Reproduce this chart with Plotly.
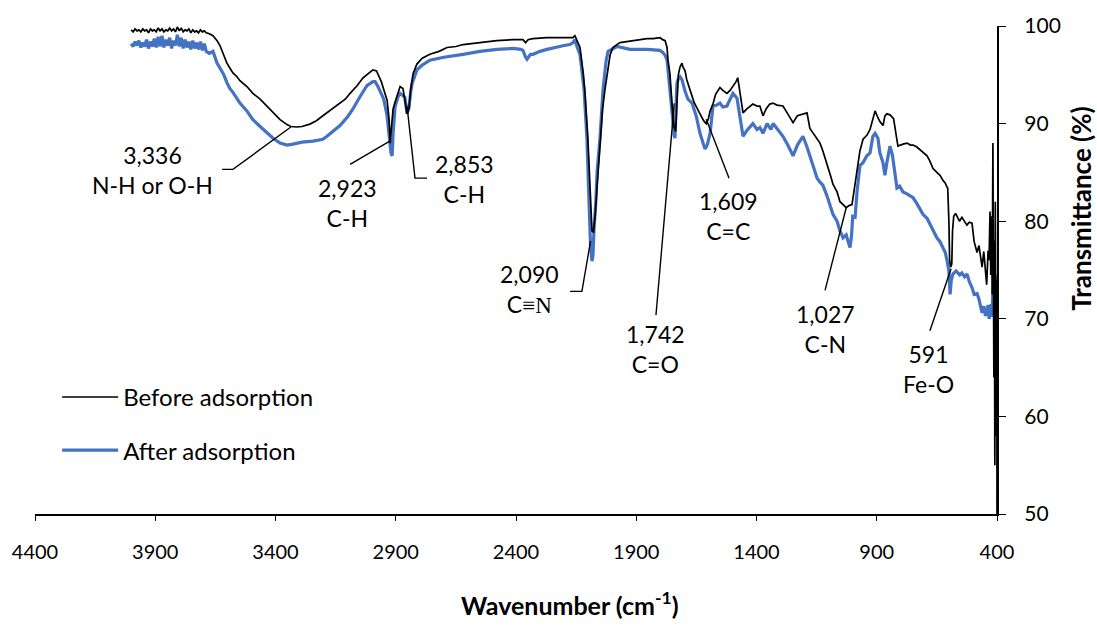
import plotly.graph_objects as go

# ---- FTIR spectra: wavenumber (cm-1) and transmittance (%) ----
# noisy high-wavenumber edge (4000-3688 cm-1), shared wavenumber grid
edge_wn = [4000, 3992, 3984, 3976, 3968, 3960, 3952, 3944, 3936, 3928, 3920, 3912, 3904, 3896,
           3888, 3880, 3872, 3864, 3856, 3848, 3840, 3832, 3824, 3816, 3808, 3800, 3792, 3784,
           3776, 3768, 3760, 3752, 3744, 3736, 3728, 3720, 3712, 3704, 3696, 3688]
before_edge_t = [99.6, 99.4, 99.7, 99.5, 99.6, 99.4, 99.7, 99.5, 99.6, 99.3, 99.7, 99.5, 99.6, 99.4,
                 99.8, 99.5, 99.7, 99.4, 99.6, 99.5, 99.8, 99.5, 99.7, 99.4, 99.9, 99.5, 99.8, 99.4,
                 99.6, 99.5, 99.7, 99.3, 99.6, 99.4, 99.5, 99.3, 99.6, 99.4, 99.5, 99.3]
after_edge_t = [98.2, 97.9, 98.4, 98.0, 98.5, 97.8, 98.3, 97.9, 98.6, 97.7, 98.4, 97.9, 98.7, 97.8,
                98.9, 97.9, 99.0, 97.8, 98.6, 98.0, 98.8, 97.7, 98.5, 98.0, 99.1, 97.9, 98.8, 97.7,
                98.6, 97.8, 98.4, 97.6, 98.5, 97.7, 98.3, 97.6, 98.4, 97.5, 98.2, 97.4]

before_wn = [3675, 3660, 3643, 3631, 3615, 3602, 3590, 3577,
             3560, 3548, 3519, 3494, 3464, 3435, 3410, 3381, 3352, 3336, 3311, 3290, 3257, 3230, 3203,
             3170, 3144, 3110, 3090, 3060, 3036, 3010, 2995, 2980, 2974, 2960, 2950, 2936, 2928, 2923,
             2918, 2911, 2903, 2890, 2882, 2870, 2862, 2853, 2845, 2838, 2828, 2812, 2790, 2758, 2720,
             2687, 2650, 2620, 2550, 2480, 2412, 2371, 2360, 2350, 2330, 2271, 2200, 2163, 2155, 2145,
             2134, 2120, 2113, 2101, 2090, 2084, 2078, 2071, 2063, 2051, 2040, 2030, 2017, 2009, 1997,
             1980, 1968, 1940, 1914, 1880, 1855, 1830, 1801, 1790, 1780, 1772, 1768, 1760, 1755, 1751,
             1747, 1742, 1736, 1731, 1725, 1718, 1710, 1706, 1697, 1690, 1677, 1660, 1635, 1620, 1609,
             1600, 1593, 1581, 1570, 1552, 1540, 1523, 1510, 1498, 1485, 1478, 1472, 1465, 1456, 1440,
             1425, 1415, 1398, 1386, 1373, 1360, 1345, 1331, 1315, 1290, 1270, 1248, 1230, 1207, 1190,
             1178, 1160, 1136, 1124, 1107, 1094, 1082, 1065, 1053, 1040, 1027, 1015, 1003, 995, 982,
             970, 957, 941, 928, 916, 907, 895, 887, 874, 866, 858, 845, 830, 824, 816,
             812, 791, 774, 760, 749, 733, 720, 708, 691, 680, 666, 650, 637, 625, 615,
             608, 605, 600, 597, 593, 588, 585, 580, 572, 565, 556, 546, 535, 525, 515,
             504, 495, 483, 475, 470, 462, 455, 448, 443, 437, 433, 429, 426, 423, 420,
             417, 415, 413, 411, 409, 407, 405, 403, 401, 400]
before_t = [99.2, 99.0, 98.5, 98.0, 97.0, 96.2, 95.7, 95.2,
            94.8, 94.4, 93.8, 93.1, 92.5, 91.8, 91.1, 90.4, 89.9, 89.7, 89.65, 89.7, 89.95, 90.3, 90.8,
            91.4, 91.8, 92.5, 93.1, 93.9, 94.7, 95.2, 95.5, 95.4, 95.1, 94.3, 93.5, 92.4, 90.5, 88.0,
            89.6, 91.5, 92.2, 93.3, 93.8, 93.6, 92.3, 91.0, 91.6, 93.5, 95.1, 96.1, 96.7, 97.1, 97.4,
            97.8, 97.9, 98.1, 98.3, 98.5, 98.6, 98.6, 98.3, 98.6, 98.7, 98.8, 98.8, 98.8, 99.0, 98.5,
            97.8, 95.1, 93.1, 88.4, 81.0, 79.0, 78.9, 80.5, 83.5, 88.0, 91.5, 93.5, 96.0, 97.0, 97.8,
            98.1, 98.3, 98.4, 98.5, 98.6, 98.7, 98.7, 98.8, 98.6, 98.5, 97.8, 96.5, 95.1, 93.0, 91.5,
            90.5, 89.6, 89.2, 92.0, 95.0, 95.8, 96.2, 95.8, 95.4, 94.5, 93.4, 92.2, 91.0, 90.3, 90.0,
            90.5, 91.3, 92.0, 93.0, 93.7, 93.4, 93.1, 93.4, 93.8, 94.3, 94.7, 93.8, 92.3, 91.1, 91.5,
            91.8, 92.0, 91.8, 91.8, 90.8, 91.5, 92.0, 92.1, 91.9, 91.8, 91.0, 90.1, 90.8, 91.0, 91.1,
            89.5, 88.8, 88.0, 87.2, 85.7, 84.8, 83.8, 83.0, 82.0, 81.7, 81.4, 81.6, 81.7, 83.0, 85.0,
            87.2, 88.4, 88.8, 89.4, 90.5, 91.3, 90.6, 90.2, 89.8, 90.8, 91.0, 90.9, 90.5, 89.5, 87.9,
            87.7, 87.9, 88.0, 87.8, 87.8, 87.6, 87.3, 87.0, 86.7, 86.2, 85.4, 85.0, 84.7, 84.2, 83.9,
            83.5, 83.4, 80.0, 76.0, 75.3, 75.6, 79.0, 80.5, 80.8, 80.4, 80.0, 80.4, 80.0, 79.6, 79.9,
            79.8, 77.9, 76.8, 77.5, 76.4, 75.3, 76.9, 75.0, 73.5, 77.0, 76.0, 81.0, 74.5, 80.5, 72.5,
            88.0, 74.0, 64.0, 78.0, 55.0, 82.0, 70.0, 58.0, 74.0, 50.0]

after_wn = [3675, 3660, 3643, 3631, 3615, 3602, 3590, 3577,
            3560, 3548, 3519, 3494, 3464, 3435, 3410, 3381, 3352, 3327, 3290, 3244, 3203, 3186, 3160,
            3132, 3100, 3078, 3050, 3020, 2995, 2986, 2974, 2966, 2950, 2936, 2928, 2920, 2915, 2911,
            2903, 2890, 2882, 2870, 2862, 2853, 2845, 2838, 2832, 2812, 2790, 2758, 2700, 2620, 2550,
            2479, 2412, 2380, 2371, 2360, 2354, 2340, 2329, 2300, 2271, 2200, 2176, 2163, 2155, 2145,
            2134, 2117, 2105, 2096, 2090, 2084, 2080, 2075, 2068, 2063, 2051, 2038, 2025, 2017, 1997,
            1980, 1926, 1855, 1801, 1790, 1780, 1772, 1768, 1760, 1751, 1747, 1742, 1739, 1736, 1731,
            1725, 1718, 1710, 1706, 1697, 1685, 1668, 1650, 1635, 1622, 1614, 1605, 1593, 1581, 1565,
            1552, 1540, 1523, 1510, 1498, 1481, 1469, 1456, 1440, 1415, 1398, 1386, 1373, 1356, 1340,
            1331, 1315, 1290, 1270, 1248, 1230, 1207, 1190, 1178, 1160, 1148, 1136, 1124, 1107, 1094,
            1082, 1065, 1053, 1040, 1027, 1020, 1011, 1005, 1000, 990, 982, 970, 957, 941, 928,
            916, 907, 895, 887, 874, 866, 858, 845, 835, 824, 816, 805, 791, 774, 749,
            733, 708, 691, 666, 650, 637, 625, 615, 608, 600, 595, 590, 583, 570, 555,
            546, 535, 525, 515, 504, 495, 483, 475, 468, 462, 455, 448, 441, 437, 433,
            429, 425, 421, 417, 413, 409, 405, 402, 400]
after_t = [97.2, 97.4, 96.2, 95.7, 95.0, 94.2, 93.6, 93.2,
           92.6, 92.1, 91.3, 90.4, 89.7, 89.0, 88.5, 88.0, 87.8, 87.9, 88.1, 88.2, 88.4, 88.7, 89.2,
           89.8, 90.7, 91.5, 92.7, 93.9, 94.3, 94.3, 93.8, 93.4, 92.5, 90.8, 88.5, 87.0, 86.7, 89.0,
           91.7, 92.8, 93.1, 92.9, 92.7, 91.0, 91.6, 93.2, 94.1, 95.5, 96.0, 96.5, 96.8, 97.1, 97.4,
           97.6, 97.7, 97.6, 97.5, 96.8, 96.6, 97.1, 97.1, 97.4, 97.6, 98.0, 98.1, 98.3, 98.6, 97.8,
           97.1, 93.5, 88.4, 81.7, 77.5, 75.9, 76.5, 79.5, 82.0, 85.0, 88.4, 93.5, 96.5, 97.4, 97.7,
           97.9, 97.6, 97.6, 97.5, 97.3, 97.0, 96.5, 95.5, 93.5, 91.0, 89.5, 88.8, 88.5, 90.8, 94.1,
           94.6, 94.8, 94.5, 94.1, 93.3, 92.5, 92.1, 90.7, 89.0, 88.0, 87.4, 87.8, 89.0, 91.8, 91.9,
           92.1, 91.7, 91.8, 92.5, 93.1, 92.6, 90.5, 88.7, 89.3, 90.0, 89.4, 89.6, 89.0, 90.0, 89.4,
           90.0, 89.5, 88.7, 87.8, 86.7, 87.8, 88.7, 87.6, 86.7, 85.2, 84.4, 84.0, 83.7, 82.6, 81.7,
           80.7, 80.0, 79.0, 78.3, 78.6, 78.0, 77.3, 78.5, 80.5, 80.4, 83.0, 85.7, 86.0, 86.7, 87.0,
           88.7, 89.0, 88.5, 87.0, 86.0, 84.7, 86.0, 87.7, 86.8, 84.5, 83.4, 83.6, 83.0, 82.8, 82.4,
           81.8, 80.7, 80.3, 79.0, 78.3, 77.9, 77.3, 76.8, 76.0, 74.9, 72.5, 74.0, 74.6, 74.9, 74.5,
           74.7, 74.3, 74.6, 73.8, 73.2, 72.5, 72.6, 72.0, 71.2, 70.6, 71.3, 70.3, 71.0, 71.4, 70.0,
           70.4, 71.5, 70.2, 73.0, 74.3, 72.0, 74.5, 70.0, 67.0]

assert len(edge_wn) == len(before_edge_t) == len(after_edge_t)
assert len(before_wn) == len(before_t)
assert len(after_wn) == len(after_t)

# ---- band assignments with label placement and leader lines ----
peak_wn = [3336, 2923, 2853, 2090, 1742, 1609, 1027, 591]
peak_group = ["N-H or O-H", "C-H", "C-H",
              "C<span style=\"font-family:'Liberation Serif', serif\">\u2261N</span>",
              "C=O", "C=C", "C-N", "Fe-O"]
label_x = [3913, 3099, 2616, 2342, 1822, 1518, 1115, 683]
label_y = [85.2, 81.9, 84.3, 73.1, 66.9, 80.5, 69.0, 64.9]
leader_end_y = [89.65, 88.24, 91.77, 77.95, 92.07, 90.45, 81.38, 75.13]
leader_start = [[(3622, 85.31), (3577, 85.31)],
                [(3090, 85.82)],
                [(2770, 84.41), (2820, 84.41)],
                [(2175, 72.81), (2126, 72.81)],
                [(1818, 70.39)],
                [(1514, 84.41)],
                [(1115, 72.91)],
                [(679, 68.78)]]

x_ticks = [4400, 3900, 3400, 2900, 2400, 1900, 1400, 900, 400]
y_ticks = [50, 60, 70, 80, 90, 100]

FONT = "Lato, 'Open Sans', sans-serif"
BLUE = "#4472C4"
ZWNJ = "\u200c"  # keeps the "t" and "i" of "adsorption" as separate glyphs

fig = go.Figure()
# blue drawn first so the thin black spectrum stays visible on top
fig.add_trace(go.Scatter(x=edge_wn + after_wn, y=after_edge_t + after_t, mode="lines",
                         name=f"After adsorp{ZWNJ}tion", legendrank=2, legendgroup="after",
                         line=dict(color=BLUE, width=3.2)))
fig.add_trace(go.Scatter(x=edge_wn + before_wn, y=before_edge_t + before_t, mode="lines",
                         name=f"Before adsorp{ZWNJ}tion", legendrank=1, legendgroup="before",
                         line=dict(color="black", width=1.7)))

shapes = []
annotations = []
for wn, grp, lx, ly, ey, pts in zip(peak_wn, peak_group, label_x, label_y, leader_end_y, leader_start):
    path_pts = pts + [(wn, ey)]
    path = "M " + " L ".join(f"{px},{py}" for px, py in path_pts)
    shapes.append(dict(type="path", xref="x", yref="y", path=path,
                       line=dict(color="black", width=1.4)))
    annotations.append(dict(x=lx, y=ly, xref="x", yref="y", showarrow=False,
                            text=f"{wn:,}<br>{grp}", align="center",
                            font=dict(family=FONT, size=23, color="black")))

annotations.append(dict(x=0.556, y=-0.183, xref="paper", yref="paper", showarrow=False,
                        xanchor="center", yanchor="middle",
                        text="<b>Wavenumber (cm<sup>-1</sup>)</b>",
                        font=dict(family=FONT, size=25, color="black")))
annotations.append(dict(x=1.0865, y=0.626, xref="paper", yref="paper", showarrow=False,
                        xanchor="center", yanchor="middle",
                        textangle=-90, text="<b>Transmittance (%)</b>",
                        font=dict(family=FONT, size=26, color="black")))

fig.update_layout(
    width=1097, height=632,
    margin=dict(l=35, r=100, t=18, b=118),
    paper_bgcolor="white", plot_bgcolor="white",
    shapes=shapes, annotations=annotations,
    legend=dict(x=0.023, y=0.285, xanchor="left", yanchor="top",
                font=dict(family=FONT, size=24, color="black"),
                traceorder="grouped", tracegroupgap=19, itemwidth=56,
                bgcolor="rgba(0,0,0,0)"),
    xaxis=dict(range=[4400, 400], tickvals=x_ticks, ticktext=[str(v) for v in x_ticks],
               showline=True, linecolor="black", linewidth=1.6, mirror=False,
               ticks="outside", ticklen=5, tickcolor="black", tickwidth=1.3,
               showgrid=False, zeroline=False, ticklabelstandoff=14,
               tickfont=dict(family=FONT, size=20, color="black")),
    yaxis=dict(range=[50, 100], tickvals=y_ticks, side="right",
               showline=True, linecolor="black", linewidth=2.2,
               ticks="outside", ticklen=7, tickcolor="black", tickwidth=1.3,
               showgrid=False, zeroline=False, ticklabelstandoff=14,
               tickfont=dict(family=FONT, size=21, color="black")),
)

fig.write_html("out.html")
